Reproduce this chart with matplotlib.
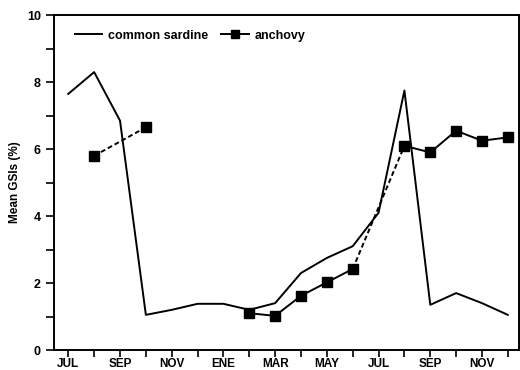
import numpy as np
import matplotlib.pyplot as plt

# ===== Data =====
# months from JUL (year 1) to DEC (year 2)
months = ["JUL", "AUG", "SEP", "OCT", "NOV", "DEC", "ENE", "FEB", "MAR",
          "APR", "MAY", "JUN", "JUL", "AUG", "SEP", "OCT", "NOV", "DEC"]
tick_labels = ["JUL", "", "SEP", "", "NOV", "", "ENE", "", "MAR",
               "", "MAY", "", "JUL", "", "SEP", "", "NOV", ""]
sardine = [7.65, 8.3, 6.85, 1.05, 1.2, 1.38, 1.38, 1.2, 1.4,
           2.3, 2.75, 3.1, 4.1, 7.75, 1.35, 1.7, 1.4, 1.05]
anchovy = [np.nan, 5.8, np.nan, 6.65, np.nan, np.nan, np.nan, 1.1, 1.02,
           1.62, 2.02, 2.42, np.nan, 6.1, 5.9, 6.55, 6.25, 6.35]

plt.rcParams["font.family"] = ["Liberation Sans", "DejaVu Sans"]
plt.rcParams["font.weight"] = "bold"

x = np.arange(len(months))
anch = np.array(anchovy)

fig = plt.figure(figsize=(5.2, 3.7), dpi=100)
ax = fig.add_axes([0.104, 0.054, 0.894, 0.905])

ax.plot(x, sardine, color="black", lw=1.4, label="common sardine")

# dashed links across missing months
ok = np.where(~np.isnan(anch))[0]
for a, b in zip(ok[:-1], ok[1:]):
    if b - a > 1 and b - a < 4:
        ax.plot([x[a], x[b]], [anch[a], anch[b]], color="black", lw=1.4, ls=(0, (2.5, 1.5)))
ax.plot(x, anch, color="black", lw=1.4, marker="s", markersize=7, label="anchovy")

ax.set_xlim(-0.55, 17.43)
ax.set_ylim(0, 10)
ax.set_xticks(x)
ax.set_xticklabels(tick_labels, fontsize=8.5, fontweight="bold")
ax.set_yticks([0, 2, 4, 6, 8, 10])
ax.set_yticks([1, 3, 5, 7, 9], minor=True)
ax.tick_params(axis="y", which="both", length=6, width=1.2, labelsize=9)
ax.tick_params(axis="x", length=5, width=1.2, pad=1)
ax.set_ylabel("Mean GSIs (%)", fontsize=8.5, fontweight="bold", labelpad=4)
for s in ax.spines.values():
    s.set_linewidth(1.4)

ax.legend(loc="upper left", ncol=2, frameon=False, handlelength=2.2,
          columnspacing=1.0, handletextpad=0.5, bbox_to_anchor=(0.02, 0.99),
          prop={"weight": "bold", "size": 9}, markerscale=0.8)

plt.savefig("out.png", dpi=100)
